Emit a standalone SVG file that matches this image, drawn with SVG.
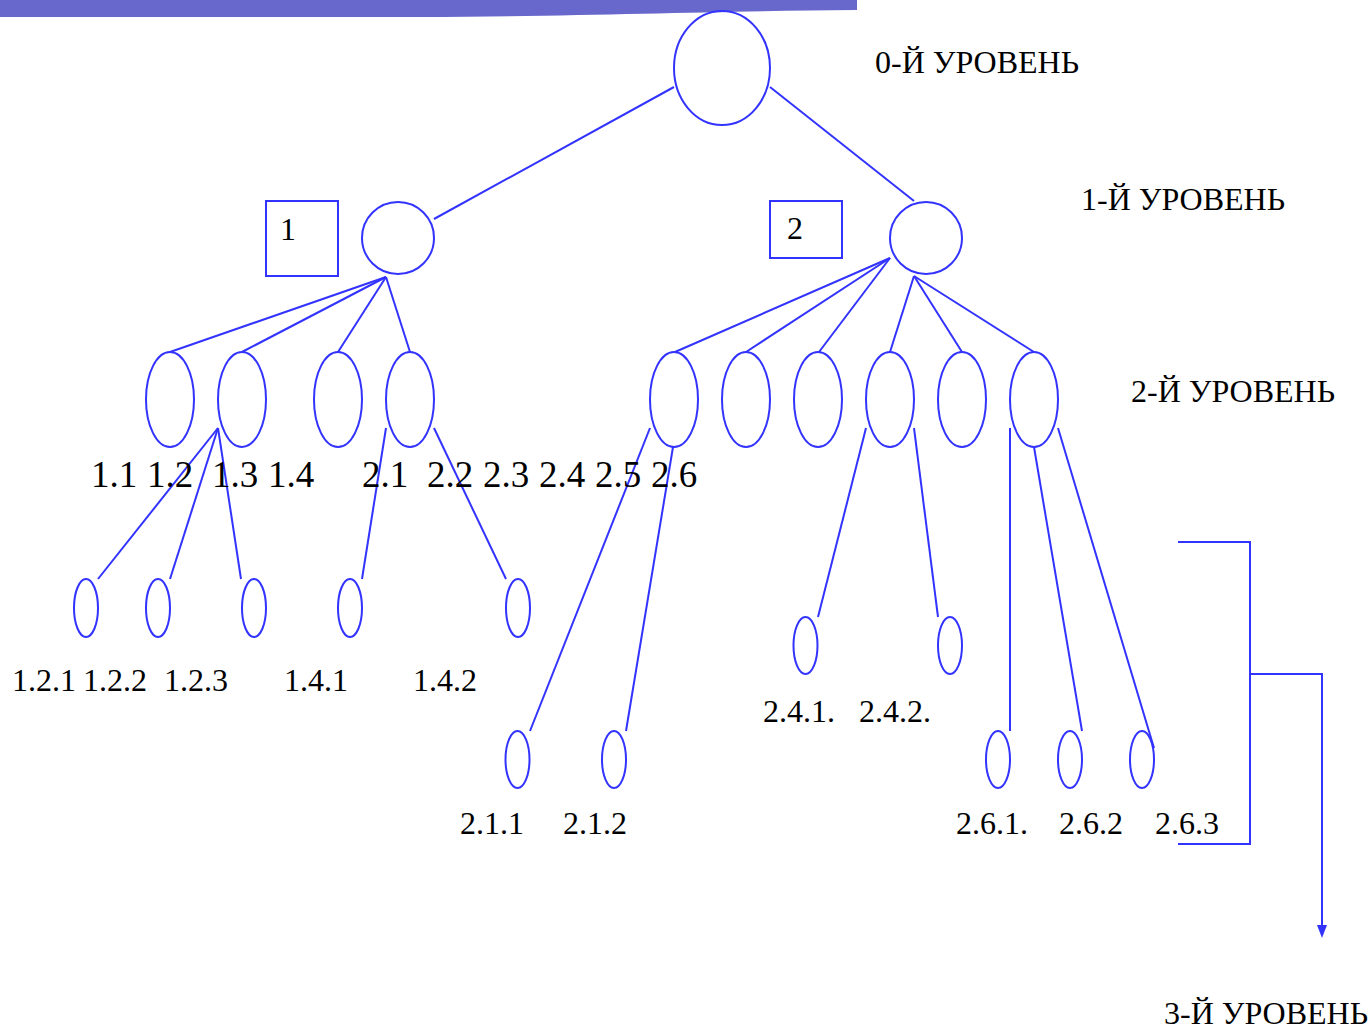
<svg xmlns="http://www.w3.org/2000/svg" width="1372" height="1030" viewBox="0 0 1372 1030">
<defs>
<style>
.n{fill:none;stroke:#3333FF;stroke-width:2}
.c{fill:none;stroke:#3333FF;stroke-width:2}
text{font-family:"Liberation Serif","Times New Roman",serif;fill:#000;font-size:32px}
.b{font-size:37px}
</style>
</defs>
<rect width="1372" height="1030" fill="#fff"/>
<path d="M0,0 H857 V10 C720,11 600,16 420,17 H0 Z" fill="#6868CC"/>

<g id="connectors">
<line class="c" x1="674" y1="87" x2="434" y2="219"/>
<line class="c" x1="770" y1="87" x2="914" y2="201"/>
<line class="c" x1="386" y1="277" x2="170" y2="352"/>
<line class="c" x1="386" y1="277" x2="242" y2="352"/>
<line class="c" x1="386" y1="277" x2="338" y2="352"/>
<line class="c" x1="386" y1="277" x2="410" y2="352"/>
<line class="c" x1="890" y1="258" x2="675" y2="352"/>
<line class="c" x1="890" y1="258" x2="746" y2="352"/>
<line class="c" x1="890" y1="258" x2="819" y2="352"/>
<line class="c" x1="914" y1="276" x2="890" y2="352"/>
<line class="c" x1="914" y1="276" x2="962" y2="352"/>
<line class="c" x1="914" y1="276" x2="1034" y2="352"/>
<line class="c" x1="218" y1="428" x2="98" y2="579"/>
<line class="c" x1="218" y1="428" x2="170" y2="579"/>
<line class="c" x1="218" y1="428" x2="241" y2="579"/>
<line class="c" x1="386" y1="428" x2="362" y2="579"/>
<line class="c" x1="434" y1="428" x2="506" y2="579"/>
<line class="c" x1="650" y1="428" x2="530" y2="731"/>
<line class="c" x1="673" y1="447" x2="626" y2="731"/>
<line class="c" x1="866" y1="428" x2="818" y2="617"/>
<line class="c" x1="914" y1="428" x2="938" y2="617"/>
<line class="c" x1="1010" y1="428" x2="1010" y2="731"/>
<line class="c" x1="1034" y1="447" x2="1082" y2="731"/>
<line class="c" x1="1058" y1="428" x2="1154" y2="748"/>
<polyline class="c" points="1178,542 1250,542 1250,844 1178,844"/>
<polyline class="c" points="1250,674 1322,674 1322,926"/>
<path d="M1317,925 L1327,925 L1322,938 Z" fill="#3333FF"/>
</g>

<g id="root"><ellipse class="n" cx="722" cy="68" rx="48" ry="57"/></g>
<g id="n1"><circle class="n" cx="398" cy="238" r="36"/></g>
<g id="n2"><circle class="n" cx="926" cy="238" r="36"/></g>
<g id="box1"><rect class="n" x="266" y="201" width="72" height="75"/><text x="280" y="240">1</text></g>
<g id="box2"><rect class="n" x="770" y="201" width="72" height="57"/><text x="787" y="239">2</text></g>

<g id="n1-1"><ellipse class="n" cx="170" cy="399.5" rx="24" ry="47.5"/></g>
<g id="n1-2"><ellipse class="n" cx="242" cy="399.5" rx="24" ry="47.5"/></g>
<g id="n1-3"><ellipse class="n" cx="338" cy="399.5" rx="24" ry="47.5"/></g>
<g id="n1-4"><ellipse class="n" cx="410" cy="399.5" rx="24" ry="47.5"/></g>
<g id="n2-1"><ellipse class="n" cx="674" cy="399.5" rx="24" ry="47.5"/></g>
<g id="n2-2"><ellipse class="n" cx="746" cy="399.5" rx="24" ry="47.5"/></g>
<g id="n2-3"><ellipse class="n" cx="818" cy="399.5" rx="24" ry="47.5"/></g>
<g id="n2-4"><ellipse class="n" cx="890" cy="399.5" rx="24" ry="47.5"/></g>
<g id="n2-5"><ellipse class="n" cx="962" cy="399.5" rx="24" ry="47.5"/></g>
<g id="n2-6"><ellipse class="n" cx="1034" cy="399.5" rx="24" ry="47.5"/></g>

<g id="n1-2-1"><ellipse class="n" cx="86" cy="608" rx="12" ry="29"/></g>
<g id="n1-2-2"><ellipse class="n" cx="158" cy="608" rx="12" ry="29"/></g>
<g id="n1-2-3"><ellipse class="n" cx="254" cy="608" rx="12" ry="29"/></g>
<g id="n1-4-1"><ellipse class="n" cx="350" cy="608" rx="12" ry="29"/></g>
<g id="n1-4-2"><ellipse class="n" cx="518" cy="608" rx="12" ry="29"/></g>
<g id="n2-1-1"><ellipse class="n" cx="517.5" cy="759.5" rx="12" ry="28.5"/></g>
<g id="n2-1-2"><ellipse class="n" cx="614" cy="759.5" rx="12" ry="28.5"/></g>
<g id="n2-4-1"><ellipse class="n" cx="805.5" cy="645.5" rx="12" ry="28.5"/></g>
<g id="n2-4-2"><ellipse class="n" cx="950" cy="645.5" rx="12" ry="28.5"/></g>
<g id="n2-6-1"><ellipse class="n" cx="998" cy="759.5" rx="12" ry="28.5"/></g>
<g id="n2-6-2"><ellipse class="n" cx="1070" cy="759.5" rx="12" ry="28.5"/></g>
<g id="n2-6-3"><ellipse class="n" cx="1142" cy="759.5" rx="12" ry="28.5"/></g>

<g id="labels">
<text x="875" y="73">0-Й УРОВЕНЬ</text>
<text x="1081" y="210">1-Й УРОВЕНЬ</text>
<text x="1131" y="402">2-Й УРОВЕНЬ</text>
<text x="1164" y="1024">3-Й УРОВЕНЬ</text>
<text class="b" x="91" y="487">1.1</text>
<text class="b" x="147" y="487">1.2</text>
<text class="b" x="212" y="487">1.3</text>
<text class="b" x="268" y="487">1.4</text>
<text class="b" x="362" y="487">2.1</text>
<text class="b" x="427" y="487">2.2</text>
<text class="b" x="483" y="487">2.3</text>
<text class="b" x="539" y="487">2.4</text>
<text class="b" x="595" y="487">2.5</text>
<text class="b" x="651" y="487">2.6</text>
<text x="12" y="691">1.2.1</text>
<text x="83" y="691">1.2.2</text>
<text x="164" y="691">1.2.3</text>
<text x="284" y="691">1.4.1</text>
<text x="413" y="691">1.4.2</text>
<text x="460" y="834">2.1.1</text>
<text x="563" y="834">2.1.2</text>
<text x="763" y="722">2.4.1.</text>
<text x="859" y="722">2.4.2.</text>
<text x="956" y="834">2.6.1.</text>
<text x="1059" y="834">2.6.2</text>
<text x="1155" y="834">2.6.3</text>
</g>
</svg>
